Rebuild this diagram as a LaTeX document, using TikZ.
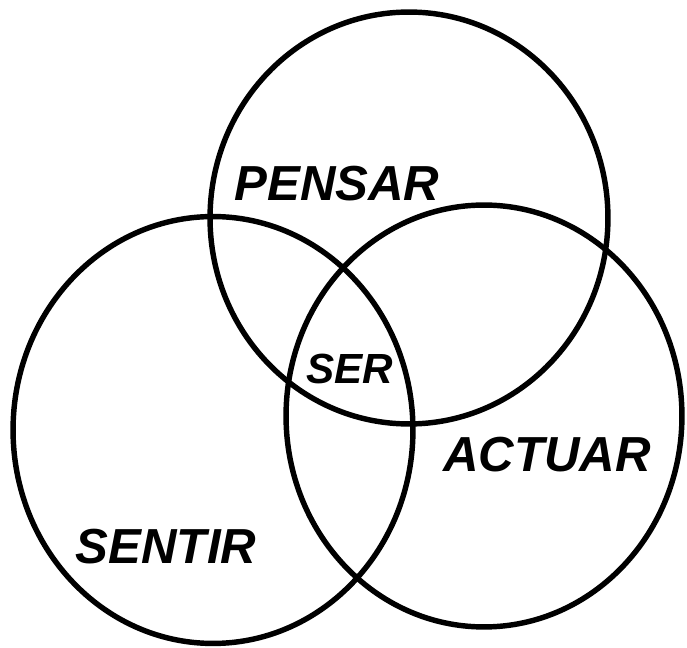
\documentclass[tikz,border=0pt]{standalone}
\usepackage{fontspec}
\setmainfont{Liberation Sans}
\usepackage{tikz}

\begin{document}
\begin{tikzpicture}[x=0.02cm, y=-0.02cm,
    every node/.style={font=\fontsize{28}{30}\selectfont\bfseries\itshape, inner sep=0pt},
    ring/.style={draw=black, line width=3.1pt}]
  \useasboundingbox (0,0) rectangle (687,648);
  % the three rings
  \draw[ring] (409,218) ellipse [x radius=3.98cm, y radius=4.12cm];
  \draw[ring] (213,430) ellipse [x radius=4cm, y radius=4.27cm];
  \draw[ring] (484,416) ellipse [x radius=3.96cm, y radius=4.22cm];
  % labels
  \node (pensar) at (337,184) {PENSAR};
  \node (actuar) at (547,455) {ACTUAR};
  \node (sentir) at (166,547) {SENTIR};
  \node[font=\fontsize{24}{26}\selectfont\bfseries\itshape] (ser) at (350,369) {SER};
\end{tikzpicture}
\end{document}
